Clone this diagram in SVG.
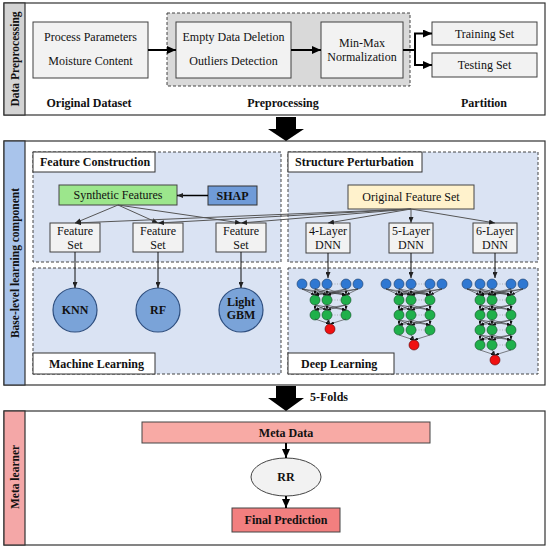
<svg xmlns="http://www.w3.org/2000/svg" width="550" height="549" viewBox="0 0 550 549" font-family="Liberation Serif, Times New Roman, serif">
<style>
text{font-family:'Liberation Serif','Times New Roman',serif;fill:#111;}
.t{font-size:12px;text-anchor:middle;}
.b{font-weight:bold;}
.l{font-size:12px;font-weight:bold;}
.side{font-size:11.5px;font-weight:bold;text-anchor:middle;}
.box{fill:#f2f2f2;stroke:#404040;stroke-width:1;}
.frame{fill:#fff;stroke:#333;stroke-width:1.2;}
.dash{stroke:#444;stroke-width:1;stroke-dasharray:3 2;}
.panel{fill:#dae3f3;stroke:#444;stroke-width:1;stroke-dasharray:3 2;}
.title{fill:#fff;stroke:#333;stroke-width:1;}
.thick{stroke:#000;stroke-width:2;fill:none;marker-end:url(#ah);}
.thin{stroke:#555;stroke-width:1;fill:none;marker-end:url(#as);}
.blk{stroke:#111;stroke-width:1;fill:none;marker-end:url(#as);}
.nn{stroke:#333;stroke-width:0.6;marker-end:url(#an);}
.bn{fill:#2f78d2;stroke:#1d3d66;stroke-width:0.6;}
.gn{fill:#1fb04b;stroke:#0e4d22;stroke-width:0.6;}
.rn{fill:#f01010;stroke:#5a0000;stroke-width:0.6;}
.dot{stroke:#999;stroke-width:0.7;stroke-dasharray:1 1.5;}
.ml{fill:#7aa3d8;stroke:#2e4e7e;stroke-width:1.2;}
</style>
<defs>
<marker id="ah" markerUnits="userSpaceOnUse" markerWidth="9" markerHeight="8" refX="9" refY="4" orient="auto"><path d="M0,0 L9,4 L0,8 z" fill="#000"/></marker>
<marker id="as" markerUnits="userSpaceOnUse" markerWidth="6" markerHeight="5" refX="6" refY="2.5" orient="auto"><path d="M0,0 L6,2.5 L0,5 z" fill="#222"/></marker>
<marker id="an" markerUnits="userSpaceOnUse" markerWidth="4" markerHeight="3" refX="4" refY="1.5" orient="auto"><path d="M0,0 L4,1.5 L0,3 z" fill="#111"/></marker>
<g id="bg">
<line class="nn" x1="0" y1="5" x2="13" y2="11"/><line class="nn" x1="0" y1="5" x2="25" y2="11"/><line class="nn" x1="0" y1="5" x2="44" y2="11"/>
<line class="nn" x1="13" y1="5" x2="13" y2="11"/><line class="nn" x1="13" y1="5" x2="25" y2="11"/><line class="nn" x1="13" y1="5" x2="44" y2="11"/>
<line class="nn" x1="25" y1="5" x2="13" y2="11"/><line class="nn" x1="25" y1="5" x2="25" y2="11"/><line class="nn" x1="25" y1="5" x2="44" y2="11"/>
<line class="nn" x1="44" y1="5" x2="13" y2="11"/><line class="nn" x1="44" y1="5" x2="25" y2="11"/><line class="nn" x1="44" y1="5" x2="44" y2="11"/>
<line class="nn" x1="56" y1="5" x2="13" y2="11"/><line class="nn" x1="56" y1="5" x2="25" y2="11"/><line class="nn" x1="56" y1="5" x2="44" y2="11"/>
</g>
<g id="gg">
<line class="nn" x1="13" y1="5" x2="13" y2="10"/><line class="nn" x1="13" y1="5" x2="25" y2="10"/><line class="nn" x1="13" y1="5" x2="44" y2="10"/>
<line class="nn" x1="25" y1="5" x2="13" y2="10"/><line class="nn" x1="25" y1="5" x2="25" y2="10"/><line class="nn" x1="25" y1="5" x2="44" y2="10"/>
<line class="nn" x1="44" y1="5" x2="13" y2="10"/><line class="nn" x1="44" y1="5" x2="25" y2="10"/><line class="nn" x1="44" y1="5" x2="44" y2="10"/>
</g>
<g id="gr">
<line class="nn" x1="13" y1="5" x2="28" y2="10"/><line class="nn" x1="25" y1="5" x2="28" y2="10"/><line class="nn" x1="44" y1="5" x2="28" y2="10"/>
</g>
<g id="brow">
<line class="dot" x1="30" y1="0" x2="39" y2="0"/>
<circle class="bn" cx="0" cy="0" r="5"/><circle class="bn" cx="13" cy="0" r="5"/><circle class="bn" cx="25" cy="0" r="5"/><circle class="bn" cx="44" cy="0" r="5"/><circle class="bn" cx="56" cy="0" r="5"/>
</g>
<g id="grow">
<line class="dot" x1="30" y1="0" x2="39" y2="0"/>
<circle class="gn" cx="13" cy="0" r="5"/><circle class="gn" cx="25" cy="0" r="5"/><circle class="gn" cx="44" cy="0" r="5"/>
</g>
</defs>

<!-- Section 1 -->
<g id="sec-data-preprocessing">
<rect class="frame" x="4" y="3" width="541" height="112"/>
<rect x="4" y="3" width="21" height="112" fill="#d3d3d3" stroke="#333" stroke-width="1.2"/>
<text class="side" transform="translate(18.5,59) rotate(-90)">Data Preprocessing</text>
<rect x="167" y="13" width="243" height="73" fill="#d9d9d9" class="dash"/>
<text class="l" x="89" y="107" text-anchor="middle">Original Dataset</text>
<text class="l" x="283" y="107" text-anchor="middle">Preprocessing</text>
<text class="l" x="484" y="107" text-anchor="middle">Partition</text>
</g>
<g id="original">
<rect class="box" x="33" y="22" width="115" height="56"/>
<text class="t" x="90.5" y="41">Process Parameters</text>
<text class="t" x="90.5" y="65">Moisture Content</text>
</g>
<g id="cleaning">
<rect class="box" x="176" y="22" width="115" height="56"/>
<text class="t" x="233.5" y="41">Empty Data Deletion</text>
<text class="t" x="233.5" y="65">Outliers Detection</text>
</g>
<g id="minmax">
<rect class="box" x="321" y="22" width="82" height="56"/>
<text class="t" x="362" y="47">Min-Max</text>
<text class="t" x="362" y="61">Normalization</text>
</g>
<g id="training">
<rect class="box" x="432" y="22" width="105" height="23"/>
<text class="t" x="484.5" y="38">Training Set</text>
</g>
<g id="testing">
<rect class="box" x="432" y="53" width="105" height="24"/>
<text class="t" x="484.5" y="69">Testing Set</text>
</g>

<!-- Section 2 -->
<g id="sec-base-level">
<rect class="frame" x="4" y="141" width="541" height="244"/>
<rect x="4" y="141" width="21" height="244" fill="#a9c4eb" stroke="#333" stroke-width="1.2"/>
<text class="side" transform="translate(18.5,263) rotate(-90)">Base-level learning  component</text>
</g>
<g id="feature-construction">
<rect class="panel" x="33" y="152" width="248" height="110"/>
<rect class="title" x="33" y="152" width="122" height="20"/>
<text class="l" x="40" y="166">Feature Construction</text>
</g>
<g id="structure-perturbation">
<rect class="panel" x="288" y="152" width="250" height="110"/>
<rect class="title" x="288" y="152" width="134" height="20"/>
<text class="l" x="295" y="166">Structure Perturbation</text>
</g>
<g id="machine-learning">
<rect class="panel" x="33" y="268" width="248" height="106"/>
<rect class="title" x="33" y="353" width="122" height="21"/>
<text class="l" x="49" y="368">Machine Learning</text>
</g>
<g id="deep-learning">
<rect class="panel" x="288" y="268" width="250" height="106"/>
<rect class="title" x="288" y="353" width="106" height="21"/>
<text class="l" x="301" y="368">Deep Learning</text>
</g>
<g id="synthetic">
<rect x="59" y="185" width="118" height="20" fill="#9ce68c" stroke="#444"/>
<text class="t" x="118" y="199">Synthetic Features</text>
</g>
<g id="shap">
<rect x="208" y="186" width="49" height="19" fill="#6f9bd8" stroke="#333"/>
<text class="t b" x="232.5" y="200">SHAP</text>
</g>
<g id="fs1"><rect class="box" x="50" y="223" width="50" height="29"/><text class="t" x="75" y="235">Feature</text><text class="t" x="75" y="249">Set</text></g>
<g id="fs2"><rect class="box" x="133" y="223" width="50" height="29"/><text class="t" x="158" y="235">Feature</text><text class="t" x="158" y="249">Set</text></g>
<g id="fs3"><rect class="box" x="216" y="223" width="50" height="29"/><text class="t" x="241" y="235">Feature</text><text class="t" x="241" y="249">Set</text></g>
<g id="original-feature-set">
<rect x="348" y="185" width="126" height="24" fill="#fff2cc" stroke="#444"/>
<text class="t" x="411" y="201">Original Feature Set</text>
</g>
<g id="dnn4"><rect class="box" x="306" y="223" width="44" height="30"/><text class="t" x="328" y="235">4-Layer</text><text class="t" x="328" y="249">DNN</text></g>
<g id="dnn5"><rect class="box" x="389" y="223" width="44" height="30"/><text class="t" x="411" y="235">5-Layer</text><text class="t" x="411" y="249">DNN</text></g>
<g id="dnn6"><rect class="box" x="473" y="223" width="44" height="30"/><text class="t" x="495" y="235">6-Layer</text><text class="t" x="495" y="249">DNN</text></g>
<g id="knn"><circle class="ml" cx="75" cy="310" r="22"/><text class="t b" x="75" y="314">KNN</text></g>
<g id="rf"><circle class="ml" cx="158" cy="310" r="22"/><text class="t b" x="158" y="314">RF</text></g>
<g id="lgbm"><circle class="ml" cx="241" cy="310" r="22"/><text class="t b" x="241" y="306">Light</text><text class="t b" x="241" y="319">GBM</text></g>

<g id="net4" transform="translate(302,284)">
<use href="#brow"/><use href="#grow" y="16"/><use href="#grow" y="31"/>
<circle class="rn" cx="28" cy="45" r="5"/>
<use href="#bg"/><use href="#gg" y="16"/><use href="#gr" y="30"/>
</g>
<g id="net5" transform="translate(386,284)">
<use href="#brow"/><use href="#grow" y="16"/><use href="#grow" y="31"/><use href="#grow" y="46"/>
<circle class="rn" cx="28" cy="61" r="5"/>
<use href="#bg"/><use href="#gg" y="16"/><use href="#gg" y="31"/><use href="#gr" y="46"/>
</g>
<g id="net6" transform="translate(467,284)">
<use href="#brow"/><use href="#grow" y="16"/><use href="#grow" y="31"/><use href="#grow" y="46"/><use href="#grow" y="61"/>
<circle class="rn" cx="28" cy="76" r="5"/>
<use href="#bg"/><use href="#gg" y="16"/><use href="#gg" y="31"/><use href="#gg" y="46"/><use href="#gr" y="61"/>
</g>

<!-- Section 3 -->
<g id="sec-meta">
<rect class="frame" x="4" y="411" width="541" height="134"/>
<rect x="4" y="411" width="21" height="134" fill="#f4a7a7" stroke="#333" stroke-width="1.2"/>
<text class="side" transform="translate(18.5,477) rotate(-90)">Meta learner</text>
</g>
<g id="meta-data">
<rect x="142" y="422" width="288" height="21" fill="#f8aaa5" stroke="#444"/>
<text class="t b" x="286" y="437">Meta Data</text>
</g>
<g id="rr">
<ellipse cx="286" cy="477" rx="35" ry="19" fill="#f2f2f2" stroke="#444"/>
<text class="t b" x="286" y="481">RR</text>
</g>
<g id="final">
<rect x="232" y="508" width="108" height="24" fill="#f27f7f" stroke="#444"/>
<text class="t b" x="286" y="524">Final Prediction</text>
</g>

<g id="connectors">
<polygon points="276,117 296,117 296,129 304,129 286,141 268,129 276,129" fill="#000"/>
<polygon points="276,386 296,386 296,398 304,398 286,411 268,398 276,398" fill="#000"/>
<text class="l" x="310" y="401">5-Folds</text>
<line class="thick" x1="148" y1="50" x2="176" y2="50"/>
<line class="thick" x1="291" y1="50" x2="321" y2="50"/>
<path d="M403,50 H415 M415,33.5 V65" stroke="#000" stroke-width="2" fill="none"/>
<line class="thick" x1="414" y1="33.5" x2="432" y2="33.5"/>
<line class="thick" x1="414" y1="65" x2="432" y2="65"/>
<line x1="208" y1="195.5" x2="177" y2="195.5" stroke="#000" stroke-width="1.5" marker-end="url(#as)"/>
<line class="thin" x1="118" y1="205" x2="75" y2="223"/>
<line class="thin" x1="118" y1="205" x2="158" y2="223"/>
<line class="thin" x1="118" y1="205" x2="241" y2="223"/>
<line class="thin" x1="411" y1="209" x2="75" y2="223"/>
<line class="thin" x1="411" y1="209" x2="158" y2="223"/>
<line class="thin" x1="411" y1="209" x2="241" y2="223"/>
<line class="thin" x1="411" y1="209" x2="328" y2="223"/>
<line class="thin" x1="411" y1="209" x2="411" y2="223"/>
<line class="thin" x1="411" y1="209" x2="495" y2="223"/>
<line class="blk" x1="75" y1="252" x2="75" y2="288"/>
<line class="blk" x1="158" y1="252" x2="158" y2="288"/>
<line class="blk" x1="241" y1="252" x2="241" y2="288"/>
<line class="blk" x1="328" y1="253" x2="328" y2="278"/>
<line class="blk" x1="411" y1="253" x2="411" y2="278"/>
<line class="blk" x1="495" y1="253" x2="495" y2="278"/>
<line class="thick" x1="286" y1="443" x2="286" y2="458"/>
<line class="thick" x1="286" y1="496" x2="286" y2="508"/>
</g>
</svg>
